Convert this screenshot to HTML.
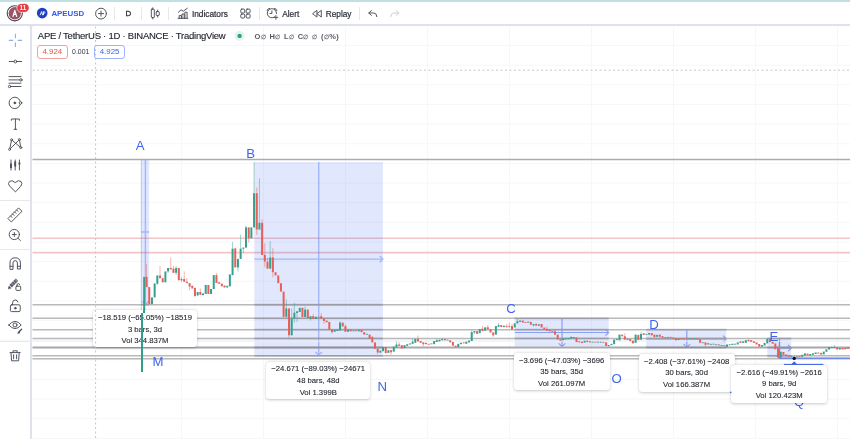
<!DOCTYPE html>
<html lang="en"><head><meta charset="utf-8"><title>APEUSD — TradingView</title>
<style>
html,body{margin:0;padding:0;background:#fff}
body{width:850px;height:439px;overflow:hidden;font-family:"Liberation Sans",sans-serif;color:#131722}
#page{position:relative;width:850px;height:439px;overflow:hidden;background:#dfe2ec}
#strip{position:absolute;left:0;top:0;width:850px;height:2px;background:#c0e1e4}
#topbar{position:absolute;left:0;top:1.8px;width:850px;height:21.8px;background:#fff}
#leftbar{position:absolute;left:0;top:26.4px;width:29.9px;height:413px;background:#fff;border-top-right-radius:2px}
#pane{position:absolute;left:32.3px;top:26.4px;width:818px;height:413px;background:#fff;border-top-left-radius:2px}
svg{position:absolute;left:0;top:0;overflow:visible}
.t{position:absolute;white-space:nowrap;line-height:1;}
.tb{font-size:8.3px;-webkit-text-stroke:0.2px #2a2e39;color:#2a2e39}
.sep{position:absolute;top:7px;width:1px;height:12.5px;background:#e6e8ee}
.lsep{position:absolute;left:0;width:30.3px;height:1px;background:#e6e8ee}
.lab{position:absolute;font-size:13.2px;line-height:1;color:#3f65f2;white-space:nowrap}
.tip{position:absolute;background:#fff;border-radius:3.5px;box-shadow:0 0.5px 3px rgba(0,0,0,0.22);font-size:7.7px;color:#23272f;-webkit-text-stroke:0.1px #23272f;text-align:center;white-space:nowrap}
.tip div{position:absolute;left:0;right:0;line-height:1}
.pbox{position:absolute;top:45.1px;height:12.1px;border:1px solid;border-radius:3px;font-size:7.9px;line-height:12.3px;text-align:center;box-sizing:content-box}
.e{font-size:6.2px;font-weight:bold;color:#6a6e78}

</style></head>
<body>
<div id="page">
<div id="strip"></div>
<div id="topbar"></div>
<div id="leftbar"></div>
<div id="pane"></div>
<svg id="chart" width="850" height="439" viewBox="0 0 850 439">
<g stroke="#f7f7fa" stroke-width="1">
<line x1="32.5" y1="45.6" x2="850" y2="45.6"/>
<line x1="32.5" y1="65.2" x2="850" y2="65.2"/>
<line x1="32.5" y1="84.8" x2="850" y2="84.8"/>
<line x1="32.5" y1="104.5" x2="850" y2="104.5"/>
<line x1="32.5" y1="124.1" x2="850" y2="124.1"/>
<line x1="32.5" y1="143.8" x2="850" y2="143.8"/>
<line x1="32.5" y1="163.4" x2="850" y2="163.4"/>
<line x1="32.5" y1="183.0" x2="850" y2="183.0"/>
<line x1="32.5" y1="202.7" x2="850" y2="202.7"/>
<line x1="32.5" y1="222.3" x2="850" y2="222.3"/>
<line x1="32.5" y1="242.0" x2="850" y2="242.0"/>
<line x1="32.5" y1="261.6" x2="850" y2="261.6"/>
<line x1="32.5" y1="281.2" x2="850" y2="281.2"/>
<line x1="32.5" y1="300.9" x2="850" y2="300.9"/>
<line x1="32.5" y1="320.5" x2="850" y2="320.5"/>
<line x1="32.5" y1="340.2" x2="850" y2="340.2"/>
<line x1="32.5" y1="359.8" x2="850" y2="359.8"/>
<line x1="32.5" y1="379.4" x2="850" y2="379.4"/>
<line x1="32.5" y1="399.1" x2="850" y2="399.1"/>
<line x1="32.5" y1="418.7" x2="850" y2="418.7"/>
<line x1="32.5" y1="438.4" x2="850" y2="438.4"/>
<line x1="181.5" y1="26.5" x2="181.5" y2="439"/>
<line x1="263.5" y1="26.5" x2="263.5" y2="439"/>
<line x1="345.5" y1="26.5" x2="345.5" y2="439"/>
<line x1="427.5" y1="26.5" x2="427.5" y2="439"/>
<line x1="509.5" y1="26.5" x2="509.5" y2="439"/>
<line x1="591.5" y1="26.5" x2="591.5" y2="439"/>
<line x1="673.5" y1="26.5" x2="673.5" y2="439"/>
<line x1="755.5" y1="26.5" x2="755.5" y2="439"/>
<line x1="837.5" y1="26.5" x2="837.5" y2="439"/>
<line x1="919.5" y1="26.5" x2="919.5" y2="439"/>
</g>
<g stroke="#f4c4c7" stroke-width="1.6">
<line x1="32.5" y1="238.3" x2="850" y2="238.3"/>
<line x1="32.5" y1="252.6" x2="850" y2="252.6"/>
</g>
<rect x="141.3" y="159.8" width="7.8" height="144.7" fill="#3a64ee" fill-opacity="0.152"/>
<rect x="254.3" y="162.1" width="128.6" height="193.2" fill="#3a64ee" fill-opacity="0.152"/>
<rect x="514.7" y="318.2" width="94.0" height="28.4" fill="#3a64ee" fill-opacity="0.152"/>
<rect x="646.2" y="330.1" width="80.1" height="17.3" fill="#3a64ee" fill-opacity="0.152"/>
<rect x="767.3" y="338.6" width="23.9" height="19.8" fill="#3a64ee" fill-opacity="0.152"/>
<path d="M145.4 159.8V304.5M142.20000000000002 301.3L145.4 304.5L148.6 301.3M141.3 232H149.1" stroke="#4f74f5" stroke-width="1.4" fill="none" stroke-opacity="0.42"/>
<path d="M318.7 162.1V355.3M315.5 352.1L318.7 355.3L321.9 352.1M254.3 259.1H382.9M379.7 255.90000000000003L382.9 259.1L379.7 262.3" stroke="#4f74f5" stroke-width="1.4" fill="none" stroke-opacity="0.42"/>
<path d="M562 318.2V346.6M558.8 343.40000000000003L562 346.6L565.2 343.40000000000003M514.7 332.5H608.7M605.5 329.3L608.7 332.5L605.5 335.7" stroke="#4f74f5" stroke-width="1.2" fill="none" stroke-opacity="0.62"/>
<path d="M686.8 330.1V347.4M683.5999999999999 344.2L686.8 347.4L690.0 344.2M646.2 338.8H726.3M723.0999999999999 335.6L726.3 338.8L723.0999999999999 342.0" stroke="#4f74f5" stroke-width="1.2" fill="none" stroke-opacity="0.62"/>
<path d="M779.5 348.2H791.2M788.0 345.0L791.2 348.2L788.0 351.4" stroke="#4f74f5" stroke-width="1.2" fill="none" stroke-opacity="0.62"/>
<path d="M779.5 338.6V358.4M776.3 355.2L779.5 358.4L782.7 355.2" stroke="#4f74f5" stroke-opacity="0.8" stroke-width="1.3" fill="none"/>
<g stroke="#b9b9bc" stroke-width="1.5">
<line x1="32.5" y1="304.74" x2="850" y2="304.74"/>
<line x1="32.5" y1="318.3" x2="850" y2="318.3"/>
<line x1="32.5" y1="329.7" x2="850" y2="329.7"/>
<line x1="32.5" y1="338.4" x2="850" y2="338.4"/>
<line x1="32.5" y1="355.8" x2="850" y2="355.8"/>
<line x1="32.5" y1="358.8" x2="850" y2="358.8"/>
<line x1="32.5" y1="159.5" x2="850" y2="159.5" stroke="#adadb0" stroke-width="1.6"/>
<line x1="32.5" y1="347.5" x2="850" y2="347.5" stroke="#a8a8ab" stroke-width="2.1"/>
</g>
<g stroke="#50546e" stroke-opacity="0.28" stroke-width="1.8">
<line x1="141.3" y1="304.74" x2="149.1" y2="304.74"/>
<line x1="254.3" y1="304.74" x2="382.9" y2="304.74"/>
<line x1="254.3" y1="318.3" x2="382.9" y2="318.3"/>
<line x1="254.3" y1="329.7" x2="382.9" y2="329.7"/>
<line x1="254.3" y1="338.4" x2="382.9" y2="338.4"/>
<line x1="254.3" y1="347.5" x2="382.9" y2="347.5"/>
<line x1="254.3" y1="355.8" x2="382.9" y2="355.8"/>
<line x1="514.7" y1="318.3" x2="608.7" y2="318.3"/>
<line x1="514.7" y1="329.7" x2="608.7" y2="329.7"/>
<line x1="514.7" y1="338.4" x2="608.7" y2="338.4"/>
<line x1="646.2" y1="329.7" x2="726.3" y2="329.7"/>
<line x1="646.2" y1="338.4" x2="726.3" y2="338.4"/>
<line x1="646.2" y1="347.5" x2="726.3" y2="347.5"/>
<line x1="767.3" y1="338.4" x2="791.2" y2="338.4"/>
<line x1="767.3" y1="347.5" x2="791.2" y2="347.5"/>
<line x1="767.3" y1="355.8" x2="791.2" y2="355.8"/>
</g>
<line x1="778.8" y1="358.2" x2="850" y2="358.2" stroke="#5b7df5" stroke-width="1.3"/>
<line x1="0" y1="341.1" x2="850" y2="341.1" stroke="#e3f1f1" stroke-width="1"/>
<g id="candles">
<line x1="141.3" y1="160" x2="141.3" y2="313" stroke="#35a08d" stroke-width="0.8" stroke-opacity="0.45"/>
<rect x="143.2" y="276.9" width="2" height="36" fill="#35a08d"/>
<line x1="146.59" y1="263.9" x2="146.59" y2="287.1" stroke="#e6605a" stroke-width="0.8" stroke-opacity="0.6"/>
<rect x="145.59" y="276.9" width="2" height="10.2" fill="#e6605a"/>
<rect x="148.27" y="287.1" width="2" height="17.1" fill="#e6605a"/>
<rect x="150.96" y="297.4" width="2" height="6.8" fill="#35a08d"/>
<rect x="153.65" y="283.4" width="2" height="14.0" fill="#35a08d"/>
<line x1="157.34" y1="275.5" x2="157.34" y2="285.0" stroke="#35a08d" stroke-width="0.8" stroke-opacity="0.6"/>
<rect x="156.34" y="275.5" width="2" height="8.2" fill="#35a08d"/>
<line x1="160.02" y1="265.9" x2="160.02" y2="278.2" stroke="#e6605a" stroke-width="0.8" stroke-opacity="0.6"/>
<rect x="159.02" y="275.5" width="2" height="2.7" fill="#e6605a"/>
<rect x="161.71" y="278.2" width="2" height="4.1" fill="#e6605a"/>
<rect x="164.40" y="271.4" width="2" height="10.9" fill="#35a08d"/>
<line x1="168.08" y1="268.0" x2="168.08" y2="273.0" stroke="#35a08d" stroke-width="0.8" stroke-opacity="0.6"/>
<rect x="167.08" y="268.0" width="2" height="3.4" fill="#35a08d"/>
<line x1="170.77" y1="257.5" x2="170.77" y2="269.4" stroke="#e6605a" stroke-width="0.8" stroke-opacity="0.6"/>
<rect x="169.77" y="268.0" width="2" height="1.4" fill="#e6605a"/>
<line x1="173.46" y1="266.0" x2="173.46" y2="272.8" stroke="#e6605a" stroke-width="0.8" stroke-opacity="0.6"/>
<rect x="172.46" y="268.7" width="2" height="4.1" fill="#e6605a"/>
<line x1="176.14" y1="266.0" x2="176.14" y2="275.0" stroke="#35a08d" stroke-width="0.8" stroke-opacity="0.6"/>
<rect x="175.14" y="268.0" width="2" height="4.8" fill="#35a08d"/>
<rect x="177.83" y="268.0" width="2" height="12.3" fill="#e6605a"/>
<line x1="181.52" y1="277.0" x2="181.52" y2="282.0" stroke="#35a08d" stroke-width="0.8" stroke-opacity="0.6"/>
<rect x="180.52" y="279.0" width="2" height="1.3" fill="#35a08d"/>
<line x1="184.21" y1="271.4" x2="184.21" y2="281.7" stroke="#e6605a" stroke-width="0.8" stroke-opacity="0.6"/>
<rect x="183.21" y="279.0" width="2" height="2.7" fill="#e6605a"/>
<line x1="186.89" y1="278.0" x2="186.89" y2="283.1" stroke="#e6605a" stroke-width="0.8" stroke-opacity="0.6"/>
<rect x="185.89" y="281.7" width="2" height="1.4" fill="#e6605a"/>
<line x1="189.58" y1="283.1" x2="189.58" y2="290.5" stroke="#e6605a" stroke-width="0.8" stroke-opacity="0.6"/>
<rect x="188.58" y="283.1" width="2" height="3.5" fill="#e6605a"/>
<rect x="191.27" y="285.7" width="2" height="2.8" fill="#e6605a"/>
<rect x="193.95" y="287.8" width="2" height="8.4" fill="#e6605a"/>
<rect x="196.64" y="292.0" width="2" height="3.5" fill="#35a08d"/>
<line x1="200.33" y1="288.5" x2="200.33" y2="294.8" stroke="#e6605a" stroke-width="0.8" stroke-opacity="0.6"/>
<rect x="199.33" y="292.0" width="2" height="2.8" fill="#e6605a"/>
<rect x="202.01" y="293.4" width="2" height="1.8" fill="#35a08d"/>
<rect x="204.70" y="285.0" width="2" height="9.0" fill="#35a08d"/>
<rect x="207.39" y="285.0" width="2" height="9.0" fill="#e6605a"/>
<rect x="210.07" y="289.0" width="2" height="5.0" fill="#35a08d"/>
<rect x="212.76" y="275.1" width="2" height="13.9" fill="#35a08d"/>
<line x1="216.45" y1="273.0" x2="216.45" y2="282.9" stroke="#e6605a" stroke-width="0.8" stroke-opacity="0.6"/>
<rect x="215.45" y="275.1" width="2" height="7.8" fill="#e6605a"/>
<rect x="218.14" y="282.2" width="2" height="1.6" fill="#e6605a"/>
<rect x="220.82" y="283.6" width="2" height="2.8" fill="#e6605a"/>
<rect x="223.51" y="285.5" width="2" height="2.0" fill="#e6605a"/>
<rect x="226.20" y="285.8" width="2" height="1.7" fill="#35a08d"/>
<rect x="228.88" y="274.4" width="2" height="12.0" fill="#35a08d"/>
<line x1="232.57" y1="241.9" x2="232.57" y2="275.1" stroke="#35a08d" stroke-width="0.8" stroke-opacity="0.6"/>
<rect x="231.57" y="248.7" width="2" height="26.4" fill="#35a08d"/>
<rect x="234.26" y="248.3" width="2" height="19.1" fill="#e6605a"/>
<line x1="237.94" y1="258.9" x2="237.94" y2="271.6" stroke="#35a08d" stroke-width="0.8" stroke-opacity="0.6"/>
<rect x="236.94" y="258.9" width="2" height="8.5" fill="#35a08d"/>
<line x1="240.63" y1="234.6" x2="240.63" y2="258.9" stroke="#35a08d" stroke-width="0.8" stroke-opacity="0.6"/>
<rect x="239.63" y="248.7" width="2" height="10.2" fill="#35a08d"/>
<line x1="243.32" y1="247.6" x2="243.32" y2="253.2" stroke="#35a08d" stroke-width="0.8" stroke-opacity="0.6"/>
<rect x="242.32" y="247.6" width="2" height="1.1" fill="#35a08d"/>
<line x1="246.01" y1="225.5" x2="246.01" y2="247.6" stroke="#35a08d" stroke-width="0.8" stroke-opacity="0.6"/>
<rect x="245.01" y="227.4" width="2" height="20.2" fill="#35a08d"/>
<line x1="248.69" y1="227.4" x2="248.69" y2="242.6" stroke="#e6605a" stroke-width="0.8" stroke-opacity="0.6"/>
<rect x="247.69" y="227.4" width="2" height="11.0" fill="#e6605a"/>
<rect x="250.38" y="227.4" width="2" height="11.0" fill="#35a08d"/>
<line x1="254.07" y1="162.2" x2="254.07" y2="227.4" stroke="#35a08d" stroke-width="0.8" stroke-opacity="0.6"/>
<rect x="253.07" y="193.2" width="2" height="34.2" fill="#35a08d"/>
<line x1="256.75" y1="187.5" x2="256.75" y2="234.8" stroke="#e6605a" stroke-width="0.8" stroke-opacity="0.6"/>
<rect x="255.75" y="193.2" width="2" height="36.3" fill="#e6605a"/>
<line x1="259.44" y1="178.4" x2="259.44" y2="229.5" stroke="#35a08d" stroke-width="0.8" stroke-opacity="0.6"/>
<rect x="258.44" y="222.8" width="2" height="6.7" fill="#35a08d"/>
<line x1="262.13" y1="219.3" x2="262.13" y2="255.0" stroke="#e6605a" stroke-width="0.8" stroke-opacity="0.6"/>
<rect x="261.13" y="222.8" width="2" height="32.2" fill="#e6605a"/>
<line x1="264.81" y1="243.2" x2="264.81" y2="267.2" stroke="#e6605a" stroke-width="0.8" stroke-opacity="0.6"/>
<rect x="263.81" y="255.0" width="2" height="6.6" fill="#e6605a"/>
<line x1="267.50" y1="258.0" x2="267.50" y2="268.6" stroke="#e6605a" stroke-width="0.8" stroke-opacity="0.6"/>
<rect x="266.50" y="261.6" width="2" height="7.0" fill="#e6605a"/>
<line x1="270.19" y1="241.1" x2="270.19" y2="268.6" stroke="#35a08d" stroke-width="0.8" stroke-opacity="0.6"/>
<rect x="269.19" y="257.4" width="2" height="11.2" fill="#35a08d"/>
<line x1="272.88" y1="248.2" x2="272.88" y2="277.5" stroke="#e6605a" stroke-width="0.8" stroke-opacity="0.6"/>
<rect x="271.88" y="257.4" width="2" height="14.8" fill="#e6605a"/>
<rect x="274.56" y="272.2" width="2" height="3.2" fill="#e6605a"/>
<rect x="277.25" y="275.4" width="2" height="7.8" fill="#e6605a"/>
<rect x="279.94" y="283.2" width="2" height="8.4" fill="#e6605a"/>
<rect x="282.62" y="291.6" width="2" height="25.3" fill="#e6605a"/>
<line x1="286.31" y1="299.4" x2="286.31" y2="316.9" stroke="#35a08d" stroke-width="0.8" stroke-opacity="0.6"/>
<rect x="285.31" y="308.5" width="2" height="8.4" fill="#35a08d"/>
<line x1="289.00" y1="308.5" x2="289.00" y2="338.0" stroke="#e6605a" stroke-width="0.8" stroke-opacity="0.6"/>
<rect x="288.00" y="308.5" width="2" height="26.8" fill="#e6605a"/>
<line x1="291.69" y1="308.5" x2="291.69" y2="335.3" stroke="#35a08d" stroke-width="0.8" stroke-opacity="0.6"/>
<rect x="290.69" y="318.4" width="2" height="16.9" fill="#35a08d"/>
<line x1="294.37" y1="302.8" x2="294.37" y2="322.6" stroke="#35a08d" stroke-width="0.8" stroke-opacity="0.6"/>
<rect x="293.37" y="312.7" width="2" height="5.7" fill="#35a08d"/>
<line x1="297.06" y1="311.3" x2="297.06" y2="321.9" stroke="#35a08d" stroke-width="0.8" stroke-opacity="0.6"/>
<rect x="296.06" y="311.3" width="2" height="1.7" fill="#35a08d"/>
<rect x="298.75" y="307.8" width="2" height="4.2" fill="#35a08d"/>
<rect x="301.43" y="307.8" width="2" height="9.2" fill="#e6605a"/>
<line x1="305.12" y1="306.5" x2="305.12" y2="317.0" stroke="#35a08d" stroke-width="0.8" stroke-opacity="0.6"/>
<rect x="304.12" y="309.6" width="2" height="7.4" fill="#35a08d"/>
<rect x="306.81" y="309.6" width="2" height="8.4" fill="#e6605a"/>
<line x1="310.49" y1="316.2" x2="310.49" y2="320.5" stroke="#35a08d" stroke-width="0.8" stroke-opacity="0.6"/>
<rect x="309.49" y="316.2" width="2" height="2.8" fill="#35a08d"/>
<line x1="313.18" y1="314.1" x2="313.18" y2="319.0" stroke="#e6605a" stroke-width="0.8" stroke-opacity="0.6"/>
<rect x="312.18" y="316.2" width="2" height="2.8" fill="#e6605a"/>
<rect x="314.87" y="316.7" width="2" height="2.3" fill="#35a08d"/>
<rect x="317.56" y="316.7" width="2" height="1.1" fill="#e6605a"/>
<line x1="321.24" y1="313.0" x2="321.24" y2="318.6" stroke="#e6605a" stroke-width="0.8" stroke-opacity="0.6"/>
<rect x="320.24" y="316.2" width="2" height="2.4" fill="#e6605a"/>
<line x1="323.93" y1="318.6" x2="323.93" y2="324.0" stroke="#e6605a" stroke-width="0.8" stroke-opacity="0.6"/>
<rect x="322.93" y="318.6" width="2" height="2.3" fill="#e6605a"/>
<rect x="325.62" y="320.5" width="2" height="1.8" fill="#e6605a"/>
<rect x="328.30" y="321.9" width="2" height="7.7" fill="#e6605a"/>
<line x1="331.99" y1="329.6" x2="331.99" y2="333.6" stroke="#e6605a" stroke-width="0.8" stroke-opacity="0.6"/>
<rect x="330.99" y="329.6" width="2" height="2.6" fill="#e6605a"/>
<rect x="333.68" y="329.9" width="2" height="1.9" fill="#35a08d"/>
<rect x="336.36" y="329.6" width="2" height="1.4" fill="#35a08d"/>
<line x1="340.05" y1="321.2" x2="340.05" y2="330.4" stroke="#35a08d" stroke-width="0.8" stroke-opacity="0.6"/>
<rect x="339.05" y="322.6" width="2" height="7.8" fill="#35a08d"/>
<rect x="341.74" y="322.6" width="2" height="3.9" fill="#e6605a"/>
<line x1="345.42" y1="324.3" x2="345.42" y2="331.8" stroke="#e6605a" stroke-width="0.8" stroke-opacity="0.6"/>
<rect x="344.42" y="326.1" width="2" height="5.7" fill="#e6605a"/>
<rect x="347.11" y="329.6" width="2" height="2.2" fill="#35a08d"/>
<rect x="349.80" y="329.6" width="2" height="1.7" fill="#e6605a"/>
<rect x="352.49" y="330.4" width="2" height="0.9" fill="#35a08d"/>
<rect x="355.17" y="330.4" width="2" height="0.9" fill="#e6605a"/>
<rect x="357.86" y="329.9" width="2" height="1.4" fill="#35a08d"/>
<rect x="360.55" y="329.9" width="2" height="2.3" fill="#e6605a"/>
<rect x="363.23" y="332.2" width="2" height="2.4" fill="#e6605a"/>
<rect x="365.92" y="333.8" width="2" height="0.9" fill="#35a08d"/>
<rect x="368.61" y="334.6" width="2" height="4.2" fill="#e6605a"/>
<rect x="371.29" y="336.7" width="2" height="5.7" fill="#e6605a"/>
<rect x="373.98" y="342.4" width="2" height="6.3" fill="#e6605a"/>
<line x1="377.67" y1="348.7" x2="377.67" y2="354.4" stroke="#e6605a" stroke-width="0.8" stroke-opacity="0.6"/>
<rect x="376.67" y="348.7" width="2" height="3.7" fill="#e6605a"/>
<rect x="379.36" y="350.6" width="2" height="2.1" fill="#35a08d"/>
<rect x="382.04" y="347.0" width="2" height="4.2" fill="#35a08d"/>
<rect x="384.73" y="347.0" width="2" height="6.2" fill="#e6605a"/>
<rect x="387.42" y="350.1" width="2" height="2.8" fill="#35a08d"/>
<line x1="391.10" y1="350.2" x2="391.10" y2="354.7" stroke="#e6605a" stroke-width="0.8" stroke-opacity="0.6"/>
<rect x="390.10" y="350.2" width="2" height="2.1" fill="#e6605a"/>
<rect x="392.79" y="346.6" width="2" height="5.0" fill="#35a08d"/>
<line x1="396.48" y1="341.4" x2="396.48" y2="347.4" stroke="#35a08d" stroke-width="0.8" stroke-opacity="0.6"/>
<rect x="395.48" y="344.5" width="2" height="2.9" fill="#35a08d"/>
<line x1="399.16" y1="342.0" x2="399.16" y2="345.9" stroke="#e6605a" stroke-width="0.8" stroke-opacity="0.6"/>
<rect x="398.16" y="344.5" width="2" height="1.4" fill="#e6605a"/>
<rect x="400.85" y="345.2" width="2" height="3.3" fill="#e6605a"/>
<rect x="403.54" y="345.2" width="2" height="2.9" fill="#35a08d"/>
<rect x="406.23" y="344.2" width="2" height="1.7" fill="#35a08d"/>
<rect x="408.91" y="343.4" width="2" height="1.1" fill="#35a08d"/>
<line x1="412.60" y1="338.6" x2="412.60" y2="343.8" stroke="#35a08d" stroke-width="0.8" stroke-opacity="0.6"/>
<rect x="411.60" y="341.7" width="2" height="2.1" fill="#35a08d"/>
<rect x="414.29" y="338.9" width="2" height="3.9" fill="#35a08d"/>
<line x1="417.97" y1="335.4" x2="417.97" y2="341.4" stroke="#e6605a" stroke-width="0.8" stroke-opacity="0.6"/>
<rect x="416.97" y="338.9" width="2" height="2.5" fill="#e6605a"/>
<rect x="419.66" y="341.0" width="2" height="1.8" fill="#e6605a"/>
<line x1="423.35" y1="342.4" x2="423.35" y2="346.2" stroke="#e6605a" stroke-width="0.8" stroke-opacity="0.6"/>
<rect x="422.35" y="342.4" width="2" height="1.8" fill="#e6605a"/>
<rect x="425.03" y="342.8" width="2" height="1.4" fill="#e6605a"/>
<rect x="427.72" y="343.8" width="2" height="0.9" fill="#e6605a"/>
<rect x="430.41" y="343.4" width="2" height="0.9" fill="#35a08d"/>
<rect x="433.10" y="341.0" width="2" height="3.2" fill="#35a08d"/>
<line x1="436.78" y1="339.0" x2="436.78" y2="342.0" stroke="#35a08d" stroke-width="0.8" stroke-opacity="0.6"/>
<rect x="435.78" y="340.3" width="2" height="1.7" fill="#35a08d"/>
<rect x="438.47" y="339.6" width="2" height="1.8" fill="#35a08d"/>
<rect x="441.16" y="338.9" width="2" height="1.4" fill="#35a08d"/>
<rect x="443.84" y="338.9" width="2" height="1.4" fill="#e6605a"/>
<rect x="446.53" y="339.6" width="2" height="0.9" fill="#35a08d"/>
<rect x="449.22" y="340.3" width="2" height="2.1" fill="#e6605a"/>
<rect x="451.90" y="342.0" width="2" height="3.7" fill="#e6605a"/>
<rect x="454.59" y="345.7" width="2" height="1.4" fill="#e6605a"/>
<rect x="457.28" y="343.8" width="2" height="3.3" fill="#35a08d"/>
<rect x="459.97" y="342.8" width="2" height="1.4" fill="#35a08d"/>
<rect x="462.65" y="342.4" width="2" height="1.0" fill="#e6605a"/>
<rect x="465.34" y="341.7" width="2" height="2.1" fill="#35a08d"/>
<rect x="468.03" y="340.6" width="2" height="1.8" fill="#35a08d"/>
<line x1="471.71" y1="330.5" x2="471.71" y2="341.0" stroke="#35a08d" stroke-width="0.8" stroke-opacity="0.6"/>
<rect x="470.71" y="332.1" width="2" height="8.9" fill="#35a08d"/>
<line x1="474.40" y1="331.1" x2="474.40" y2="334.0" stroke="#35a08d" stroke-width="0.8" stroke-opacity="0.6"/>
<rect x="473.40" y="331.1" width="2" height="1.4" fill="#35a08d"/>
<rect x="476.09" y="331.1" width="2" height="2.8" fill="#e6605a"/>
<rect x="478.77" y="329.0" width="2" height="4.2" fill="#35a08d"/>
<line x1="482.46" y1="325.9" x2="482.46" y2="331.1" stroke="#e6605a" stroke-width="0.8" stroke-opacity="0.6"/>
<rect x="481.46" y="328.7" width="2" height="2.4" fill="#e6605a"/>
<rect x="484.15" y="327.3" width="2" height="3.4" fill="#35a08d"/>
<line x1="487.84" y1="325.0" x2="487.84" y2="329.3" stroke="#e6605a" stroke-width="0.8" stroke-opacity="0.6"/>
<rect x="486.84" y="327.3" width="2" height="2.0" fill="#e6605a"/>
<rect x="489.52" y="329.0" width="2" height="3.5" fill="#e6605a"/>
<line x1="493.21" y1="332.5" x2="493.21" y2="337.0" stroke="#e6605a" stroke-width="0.8" stroke-opacity="0.6"/>
<rect x="492.21" y="332.5" width="2" height="2.9" fill="#e6605a"/>
<rect x="494.90" y="326.1" width="2" height="8.5" fill="#35a08d"/>
<line x1="498.58" y1="323.0" x2="498.58" y2="326.8" stroke="#35a08d" stroke-width="0.8" stroke-opacity="0.6"/>
<rect x="497.58" y="325.1" width="2" height="1.7" fill="#35a08d"/>
<rect x="500.27" y="325.1" width="2" height="2.0" fill="#e6605a"/>
<rect x="502.96" y="325.7" width="2" height="1.4" fill="#35a08d"/>
<line x1="506.64" y1="324.0" x2="506.64" y2="328.0" stroke="#e6605a" stroke-width="0.8" stroke-opacity="0.6"/>
<rect x="505.64" y="325.9" width="2" height="0.9" fill="#e6605a"/>
<line x1="509.33" y1="322.6" x2="509.33" y2="328.2" stroke="#e6605a" stroke-width="0.8" stroke-opacity="0.6"/>
<rect x="508.33" y="326.2" width="2" height="0.9" fill="#e6605a"/>
<line x1="512.02" y1="324.0" x2="512.02" y2="329.6" stroke="#e6605a" stroke-width="0.8" stroke-opacity="0.6"/>
<rect x="511.02" y="326.1" width="2" height="3.5" fill="#e6605a"/>
<rect x="513.71" y="323.3" width="2" height="4.2" fill="#35a08d"/>
<line x1="517.39" y1="319.0" x2="517.39" y2="323.3" stroke="#35a08d" stroke-width="0.8" stroke-opacity="0.6"/>
<rect x="516.39" y="321.2" width="2" height="2.1" fill="#35a08d"/>
<rect x="519.08" y="320.5" width="2" height="1.4" fill="#35a08d"/>
<rect x="521.77" y="320.5" width="2" height="2.1" fill="#e6605a"/>
<rect x="524.45" y="321.9" width="2" height="1.0" fill="#e6605a"/>
<rect x="527.14" y="321.5" width="2" height="1.1" fill="#35a08d"/>
<rect x="529.83" y="321.9" width="2" height="2.8" fill="#e6605a"/>
<line x1="533.51" y1="324.0" x2="533.51" y2="326.5" stroke="#35a08d" stroke-width="0.8" stroke-opacity="0.6"/>
<rect x="532.51" y="324.0" width="2" height="1.4" fill="#35a08d"/>
<rect x="535.20" y="323.7" width="2" height="2.0" fill="#e6605a"/>
<rect x="537.89" y="324.3" width="2" height="1.4" fill="#35a08d"/>
<rect x="540.58" y="324.0" width="2" height="3.5" fill="#e6605a"/>
<rect x="543.26" y="327.5" width="2" height="1.9" fill="#e6605a"/>
<line x1="546.95" y1="326.5" x2="546.95" y2="330.8" stroke="#e6605a" stroke-width="0.8" stroke-opacity="0.6"/>
<rect x="545.95" y="328.9" width="2" height="1.9" fill="#e6605a"/>
<rect x="548.64" y="329.9" width="2" height="1.4" fill="#e6605a"/>
<rect x="551.32" y="330.8" width="2" height="1.0" fill="#e6605a"/>
<line x1="555.01" y1="329.5" x2="555.01" y2="334.6" stroke="#e6605a" stroke-width="0.8" stroke-opacity="0.6"/>
<rect x="554.01" y="331.3" width="2" height="3.3" fill="#e6605a"/>
<rect x="556.70" y="334.6" width="2" height="4.9" fill="#e6605a"/>
<rect x="559.38" y="339.2" width="2" height="1.5" fill="#e6605a"/>
<rect x="562.07" y="338.4" width="2" height="1.8" fill="#35a08d"/>
<rect x="564.76" y="338.4" width="2" height="1.1" fill="#35a08d"/>
<rect x="567.45" y="338.1" width="2" height="1.1" fill="#35a08d"/>
<line x1="571.13" y1="336.0" x2="571.13" y2="338.4" stroke="#35a08d" stroke-width="0.8" stroke-opacity="0.6"/>
<rect x="570.13" y="337.0" width="2" height="1.4" fill="#35a08d"/>
<rect x="572.82" y="337.0" width="2" height="1.1" fill="#35a08d"/>
<rect x="575.51" y="337.4" width="2" height="4.7" fill="#e6605a"/>
<rect x="578.19" y="341.2" width="2" height="1.2" fill="#e6605a"/>
<rect x="580.88" y="341.6" width="2" height="1.5" fill="#e6605a"/>
<rect x="583.57" y="340.7" width="2" height="1.9" fill="#35a08d"/>
<rect x="586.25" y="340.7" width="2" height="1.4" fill="#e6605a"/>
<rect x="588.94" y="341.2" width="2" height="1.2" fill="#e6605a"/>
<rect x="591.63" y="341.7" width="2" height="0.9" fill="#35a08d"/>
<rect x="594.32" y="341.7" width="2" height="0.9" fill="#e6605a"/>
<rect x="597.00" y="341.7" width="2" height="0.9" fill="#35a08d"/>
<rect x="599.69" y="341.7" width="2" height="0.9" fill="#35a08d"/>
<rect x="602.38" y="341.9" width="2" height="0.9" fill="#e6605a"/>
<rect x="605.06" y="342.4" width="2" height="3.5" fill="#e6605a"/>
<rect x="607.75" y="345.0" width="2" height="1.2" fill="#35a08d"/>
<rect x="610.44" y="343.8" width="2" height="1.4" fill="#35a08d"/>
<rect x="613.12" y="339.6" width="2" height="4.6" fill="#35a08d"/>
<rect x="615.81" y="338.9" width="2" height="1.1" fill="#35a08d"/>
<rect x="618.50" y="334.6" width="2" height="5.7" fill="#35a08d"/>
<rect x="621.19" y="334.6" width="2" height="1.7" fill="#e6605a"/>
<line x1="624.87" y1="333.2" x2="624.87" y2="339.6" stroke="#e6605a" stroke-width="0.8" stroke-opacity="0.6"/>
<rect x="623.87" y="336.3" width="2" height="3.3" fill="#e6605a"/>
<rect x="626.56" y="338.6" width="2" height="1.4" fill="#e6605a"/>
<rect x="629.25" y="338.9" width="2" height="2.1" fill="#e6605a"/>
<rect x="631.93" y="340.6" width="2" height="2.8" fill="#e6605a"/>
<rect x="634.62" y="334.6" width="2" height="8.2" fill="#35a08d"/>
<rect x="637.31" y="334.9" width="2" height="5.1" fill="#e6605a"/>
<line x1="641.00" y1="332.0" x2="641.00" y2="339.6" stroke="#35a08d" stroke-width="0.8" stroke-opacity="0.6"/>
<rect x="640.00" y="334.0" width="2" height="5.6" fill="#35a08d"/>
<rect x="642.68" y="333.2" width="2" height="1.7" fill="#e6605a"/>
<rect x="645.37" y="333.9" width="2" height="0.9" fill="#35a08d"/>
<rect x="648.06" y="333.0" width="2" height="1.6" fill="#35a08d"/>
<rect x="650.74" y="333.0" width="2" height="2.4" fill="#e6605a"/>
<rect x="653.43" y="334.6" width="2" height="2.6" fill="#e6605a"/>
<rect x="656.12" y="334.9" width="2" height="1.9" fill="#35a08d"/>
<rect x="658.80" y="334.6" width="2" height="2.2" fill="#e6605a"/>
<rect x="661.49" y="336.1" width="2" height="1.7" fill="#e6605a"/>
<rect x="664.18" y="337.2" width="2" height="1.0" fill="#e6605a"/>
<rect x="666.86" y="336.9" width="2" height="0.9" fill="#35a08d"/>
<rect x="669.55" y="336.8" width="2" height="1.0" fill="#e6605a"/>
<rect x="672.24" y="337.5" width="2" height="1.1" fill="#e6605a"/>
<rect x="674.93" y="338.2" width="2" height="2.1" fill="#e6605a"/>
<rect x="677.61" y="338.6" width="2" height="1.4" fill="#35a08d"/>
<rect x="680.30" y="338.2" width="2" height="1.0" fill="#e6605a"/>
<rect x="682.99" y="338.6" width="2" height="0.9" fill="#e6605a"/>
<rect x="685.67" y="338.3" width="2" height="0.9" fill="#e6605a"/>
<rect x="688.36" y="338.4" width="2" height="0.9" fill="#35a08d"/>
<rect x="691.05" y="338.6" width="2" height="0.9" fill="#e6605a"/>
<rect x="693.73" y="338.4" width="2" height="0.9" fill="#35a08d"/>
<rect x="696.42" y="338.3" width="2" height="1.3" fill="#e6605a"/>
<rect x="699.11" y="339.2" width="2" height="3.6" fill="#e6605a"/>
<rect x="701.80" y="342.3" width="2" height="0.9" fill="#35a08d"/>
<line x1="705.48" y1="342.4" x2="705.48" y2="346.6" stroke="#e6605a" stroke-width="0.8" stroke-opacity="0.6"/>
<rect x="704.48" y="342.4" width="2" height="2.4" fill="#e6605a"/>
<rect x="707.17" y="343.1" width="2" height="1.4" fill="#e6605a"/>
<rect x="709.86" y="343.9" width="2" height="0.9" fill="#35a08d"/>
<rect x="712.54" y="343.7" width="2" height="0.9" fill="#35a08d"/>
<rect x="715.23" y="344.3" width="2" height="0.9" fill="#35a08d"/>
<rect x="717.92" y="344.4" width="2" height="1.0" fill="#e6605a"/>
<rect x="720.60" y="345.0" width="2" height="1.0" fill="#e6605a"/>
<rect x="723.29" y="345.3" width="2" height="0.9" fill="#e6605a"/>
<rect x="725.98" y="344.5" width="2" height="2.4" fill="#35a08d"/>
<rect x="728.67" y="344.3" width="2" height="1.0" fill="#35a08d"/>
<rect x="731.35" y="343.7" width="2" height="1.3" fill="#35a08d"/>
<rect x="734.04" y="343.7" width="2" height="0.9" fill="#35a08d"/>
<rect x="736.73" y="342.4" width="2" height="2.1" fill="#35a08d"/>
<rect x="739.41" y="341.3" width="2" height="1.6" fill="#e6605a"/>
<rect x="742.10" y="341.3" width="2" height="1.6" fill="#35a08d"/>
<rect x="744.79" y="340.2" width="2" height="2.7" fill="#35a08d"/>
<rect x="747.47" y="339.7" width="2" height="1.6" fill="#e6605a"/>
<rect x="750.16" y="340.2" width="2" height="1.6" fill="#e6605a"/>
<rect x="752.85" y="341.3" width="2" height="1.6" fill="#e6605a"/>
<rect x="755.54" y="342.4" width="2" height="2.1" fill="#e6605a"/>
<rect x="758.22" y="344.0" width="2" height="2.6" fill="#e6605a"/>
<rect x="760.91" y="345.0" width="2" height="1.6" fill="#35a08d"/>
<rect x="763.60" y="342.9" width="2" height="2.7" fill="#35a08d"/>
<rect x="766.28" y="338.9" width="2" height="4.5" fill="#35a08d"/>
<rect x="768.97" y="339.2" width="2" height="2.9" fill="#e6605a"/>
<rect x="771.66" y="341.8" width="2" height="1.9" fill="#e6605a"/>
<rect x="774.34" y="343.4" width="2" height="5.9" fill="#e6605a"/>
<line x1="778.03" y1="345.5" x2="778.03" y2="357.2" stroke="#e6605a" stroke-width="0.8" stroke-opacity="0.6"/>
<rect x="777.03" y="348.5" width="2" height="8.7" fill="#e6605a"/>
<rect x="779.72" y="351.7" width="2" height="5.1" fill="#35a08d"/>
<rect x="782.41" y="352.0" width="2" height="2.8" fill="#e6605a"/>
<rect x="785.09" y="354.5" width="2" height="1.6" fill="#e6605a"/>
<rect x="787.78" y="355.6" width="2" height="1.2" fill="#e6605a"/>
<rect x="790.47" y="356.1" width="2" height="1.0" fill="#35a08d"/>
<rect x="793.15" y="356.5" width="2" height="1.0" fill="#e6605a"/>
<rect x="795.84" y="356.4" width="2" height="1.0" fill="#35a08d"/>
<rect x="798.53" y="356.1" width="2" height="1.0" fill="#e6605a"/>
<rect x="801.21" y="354.8" width="2" height="2.0" fill="#35a08d"/>
<rect x="803.90" y="353.3" width="2" height="2.3" fill="#35a08d"/>
<rect x="806.59" y="353.6" width="2" height="1.6" fill="#e6605a"/>
<rect x="809.28" y="354.0" width="2" height="1.6" fill="#35a08d"/>
<rect x="811.96" y="353.3" width="2" height="1.5" fill="#35a08d"/>
<rect x="814.65" y="352.5" width="2" height="1.5" fill="#35a08d"/>
<rect x="817.34" y="352.5" width="2" height="1.1" fill="#e6605a"/>
<rect x="820.02" y="352.9" width="2" height="1.6" fill="#e6605a"/>
<rect x="822.71" y="351.6" width="2" height="2.8" fill="#35a08d"/>
<rect x="825.40" y="349.3" width="2" height="2.5" fill="#35a08d"/>
<rect x="828.08" y="347.0" width="2" height="2.5" fill="#35a08d"/>
<rect x="830.77" y="347.0" width="2" height="1.0" fill="#35a08d"/>
<line x1="834.46" y1="345.0" x2="834.46" y2="348.0" stroke="#35a08d" stroke-width="0.8" stroke-opacity="0.6"/>
<rect x="833.46" y="347.0" width="2" height="1.0" fill="#35a08d"/>
<rect x="836.15" y="347.3" width="2" height="2.2" fill="#e6605a"/>
<rect x="838.83" y="348.0" width="2" height="1.5" fill="#35a08d"/>
<rect x="841.52" y="348.0" width="2" height="1.4" fill="#e6605a"/>
<rect x="844.21" y="347.9" width="2" height="1.4" fill="#e6605a"/>
<rect x="846.89" y="347.5" width="2" height="1.5" fill="#e6605a"/>
<rect x="849.58" y="347.0" width="2" height="1.5" fill="#e6605a"/>
</g>
<circle cx="794.2" cy="358.4" r="1.7" fill="#111"/>
<path d="M791.1 364.6L794.2 361.3L797.3 364.6Z" fill="#3b66f5"/>
<line x1="783.9" y1="364.4" x2="823.4" y2="364.4" stroke="#3b66f5" stroke-width="1"/>
</svg>
<div class="t" id="title" style="left:37.8px;top:31.1px;font-size:9.5px;letter-spacing:-0.245px;color:#20242e;-webkit-text-stroke:0.12px #20242e">APE / TetherUS · 1D · BINANCE · TradingView</div>
<div class="t" id="ohlc" style="left:254.4px;top:32.9px;font-size:7.5px;font-weight:bold;color:#565a64;letter-spacing:0.32px;word-spacing:1.1px">O<span class="e">∅</span> H<span class="e">∅</span> L<span class="e">∅</span> C<span class="e">∅</span> <span class="e">∅</span> (<span class="e">∅</span>%)</div>
<div class="pbox" style="left:36.8px;width:29px;border-color:#f3a19e;color:#e8504b">4.924</div>
<div class="t" style="left:72.1px;top:48.9px;font-size:6.9px;color:#30343e">0.001</div>
<div class="pbox" style="left:94.2px;width:28.7px;border-color:#9db3fb;color:#3f65f2">4.925</div>

<div class="lab" style="left:135.8px;top:139.2px">A</div>
<div class="lab" style="left:246.3px;top:147.2px">B</div>
<div class="lab" style="left:506.2px;top:301.6px">C</div>
<div class="lab" style="left:649.2px;top:317.6px">D</div>
<div class="lab" style="left:769.6px;top:329.6px">E</div>
<div class="lab" style="left:152.4px;top:355.2px">M</div>
<div class="lab" style="left:377.4px;top:380.3px">N</div>
<div class="lab" style="left:611.6px;top:372px">O</div>
<div class="lab" style="left:794px;top:395px">Q</div>

<div class="tip" style="left:92.8px;top:310.2px;width:104.4px;height:37.1px"><div style="top:4.2px">−18.519 (−65.05%) −18519</div><div style="top:15.8px">3 bars, 3d</div><div style="top:27.2px">Vol 344.837M</div></div>
<div class="tip" style="left:266.2px;top:361.5px;width:104.1px;height:37px"><div style="top:3.9px">−24.671 (−89.03%) −24671</div><div style="top:15.4px">48 bars, 48d</div><div style="top:27.2px">Vol 1.399B</div></div>
<div class="tip" style="left:513.6px;top:352.8px;width:96px;height:37.4px"><div style="top:3.8px">−3.696 (−47.03%) −3696</div><div style="top:15.1px">35 bars, 35d</div><div style="top:26.8px">Vol 261.097M</div></div>
<div class="tip" style="left:638.5px;top:354px;width:96.1px;height:37.9px"><div style="top:3.9px">−2.408 (−37.61%) −2408</div><div style="top:15.4px">30 bars, 30d</div><div style="top:26.9px">Vol 166.387M</div></div>
<div class="tip" style="left:730.9px;top:364.8px;width:96.5px;height:37.8px"><div style="top:3.9px">−2.616 (−49.91%) −2616</div><div style="top:15.4px">9 bars, 9d</div><div style="top:27px">Vol 120.423M</div></div>
<div style="position:absolute;left:143.2px;top:310px;width:2px;height:2.8px;background:#2f9f8c"></div>
<div id="wick" style="position:absolute;left:140.6px;top:312.5px;width:2px;height:59.7px;background:#2f9f8c"></div>

<div class="t" style="left:51.4px;top:10px;font-size:7.9px;font-weight:bold;color:#2f5af5">APEUSD</div>
<div class="t tb" style="left:125.6px;top:9.7px;font-size:7.9px;-webkit-text-stroke:0.28px #2a2e39">D</div>
<div class="t tb" style="left:191.9px;top:9.6px">Indicators</div>
<div class="t tb" style="left:282.2px;top:9.6px">Alert</div>
<div class="t tb" style="left:325.7px;top:9.6px">Replay</div>
<div class="sep" style="left:114.3px"></div>
<div class="sep" style="left:141.3px"></div>
<div class="sep" style="left:168.3px"></div>
<div class="sep" style="left:258.6px"></div>
<div class="sep" style="left:358.6px"></div>
<div class="lsep" style="top:200px"></div>
<div class="lsep" style="top:249px"></div>
<div class="lsep" style="top:340.8px"></div>
<div class="t" style="left:19.5px;top:4.9px;font-size:6.3px;font-weight:bold;color:#fff;z-index:3;letter-spacing:0.1px">11</div>
<svg id="icons" width="850" height="439" viewBox="0 0 850 439" fill="none" stroke="#4a4e58" stroke-width="0.95" stroke-linecap="round" stroke-linejoin="round">
<g stroke="#c3c5cb" stroke-width="1" stroke-dasharray="2 2.5" stroke-linecap="butt"><line x1="32.5" y1="70.2" x2="850" y2="70.2"/><line x1="95.6" y1="26.5" x2="95.6" y2="439"/></g>
<!-- avatar -->
<circle cx="14.8" cy="13.3" r="7.6" stroke="#44474f" stroke-width="1.1"/>
<circle cx="14.8" cy="13.3" r="6.2" fill="#9c5464" stroke="none"/>
<path d="M13 16.4L14.8 10.4L16.6 16.4M13.7 14.4H15.900" stroke="#fff" stroke-width="1.2"/>
<rect x="16.9" y="3.5" width="12.2" height="8.8" rx="4.4" fill="#e3393f" stroke="#fff" stroke-width="0.6"/>
<!-- symbol logo -->
<circle cx="42.2" cy="13.1" r="5.3" fill="#1c3fc4" stroke="none"/>
<path d="M40.2 14.9L41.6 11.6L42.6 14.9M43.4 14.7V11.7H44.4Q45.4 12.4 44.3 13.3H43.4" stroke="#fff" stroke-width="0.9"/>
<circle cx="239.6" cy="35.9" r="5" fill="#e4f4f0" stroke="none"/><circle cx="239.6" cy="35.9" r="2.2" fill="#2fa087" stroke="none"/>
<!-- plus circle -->
<circle cx="101" cy="13.6" r="5.4"/>
<path d="M98.4 13.6H103.6M101 11V16.2"/>
<!-- candles icon -->
<rect x="151.3" y="9.2" width="3" height="8.3" rx="0.5"/><path d="M152.8 7.8V9.2M152.8 17.5V19"/>
<rect x="156.2" y="11.6" width="3" height="3.9" rx="0.5"/><path d="M157.7 10.1V11.6M157.7 15.5V17.1"/>
<!-- indicators icon -->
<path d="M178.3 12.4L181 9.8L183.3 11.2L187.4 8.2"/>
<path d="M178 18.3H187.8M179.2 18.3V15.6H181.4V18.3M182 18.3V14H184.2V18.3M184.9 18.3V12.2H187.1V18.3"/>
<!-- 4 squares -->
<rect x="240.8" y="9.1" width="3.9" height="3.9" rx="1"/><rect x="246.2" y="9.1" width="3.9" height="3.9" rx="1"/>
<rect x="240.8" y="14.1" width="3.9" height="3.9" rx="1"/><rect x="246.2" y="14.1" width="3.9" height="3.9" rx="1"/>
<!-- alert -->
<path d="M274.6 17A4.6 4.6 0 1 1 276.5 13.6"/>
<path d="M271.9 10.8V13.5H270"/>
<path d="M267 10.6Q267.4 8.4 269.6 8.4M276.9 10.6Q276.5 8.4 274.3 8.4"/>
<path d="M274 17.4H277.8M275.9 15.5V19.3"/>
<!-- replay -->
<path d="M316.6 10.6L312.6 13.7L316.6 16.8ZM321 10.6L317 13.7L321 16.8Z"/>
<!-- undo / redo -->
<path d="M371.4 10.6L368.8 13L371.4 15.4M368.8 13H374Q376.8 13.2 376.8 16.6"/>
<path d="M396.2 10.6L398.8 13L396.2 15.4M398.8 13H393.6Q390.8 13.2 390.8 16.6" stroke="#c9ccd3"/>
<!-- left toolbar -->
<path d="M8.8 40.4H13.2M17.6 40.4H22M15.4 33.8V38.2M15.4 42.6V47" stroke="#93abf9" stroke-width="1.1" stroke-linecap="butt"/>
<path d="M9.2 61.5H14M16.8 61.5H21.6"/><circle cx="15.4" cy="61.5" r="1.4"/>
<path d="M9 76.6H21M9 79.9H19.6M9 83.2H21M11 86.5H21"/><circle cx="20.9" cy="79.9" r="1.2" fill="#fff"/><circle cx="9.6" cy="86.5" r="1.2" fill="#fff"/>
<circle cx="14.8" cy="102.9" r="5.7"/><circle cx="14.8" cy="102.9" r="0.9" fill="#2a2e39"/><circle cx="20.5" cy="102.9" r="1.3" fill="#fff"/>
<path d="M11.4 120.3V119H19.4V120.3M15.4 119V129.3M14 129.3H16.8"/>
<path d="M9.6 149.4L11.6 139.8L20.8 147.6L19.4 139.6L9.6 149.4"/><circle cx="9.6" cy="149.4" r="1" fill="#fff"/><circle cx="11.6" cy="139.8" r="1" fill="#fff"/><circle cx="20.8" cy="147.6" r="1" fill="#fff"/><circle cx="19.4" cy="139.6" r="1" fill="#fff"/>
<path d="M11 160V170M15.2 160V170M19.4 160V170"/><path d="M11 163.5V168M15.2 161.5V166.5M19.4 162.5V164.5" stroke-width="1.9" stroke-linecap="butt"/>
<path d="M15.2 191.6L9.4 185.9Q7.6 183.4 9.4 181.5Q12 179.4 15.2 182.6Q18.4 179.4 21 181.5Q22.8 183.4 21 185.900Z"/>
<path d="M8.2 218.300L18.6 207.9L22 211.300L11.6 221.7ZM10.6 216L12 217.400M12.6 214L14 215.4M14.6 212L16 213.400M16.6 210L18 211.4"/>
<circle cx="14.3" cy="234.5" r="5.1"/><path d="M18 238.2L20.4 240.6M12.3 234.500H16.300M14.3 232.5V236.5"/>
<path d="M10 269V263Q10 257.8 15.2 257.800Q20.4 257.8 20.4 263V269H17.400V263Q17.4 260.6 15.2 260.600Q13 260.6 13 263V269ZM10 266.300H13M17.4 266.300H20.4"/>
<path d="M10.6 286.2L17 279.8" stroke="#5d616b" stroke-width="3.6" stroke-linecap="butt"/><path d="M11.6 283.2L13.600 285.2M13.4 281.4L15.4 283.4M15.2 279.600L17.200 281.600" stroke="#fff" stroke-width="0.5"/><path d="M8.4 288.6L9 286.2L10.800 288Z" fill="#3a3e48" stroke-width="0.6"/>
<rect x="15.9" y="286.2" width="4.8" height="4.2" rx="0.8" fill="#fff"/><path d="M17 286.200V285Q17 283.600 18.300 283.600Q19.400 283.600 19.600 284.600"/>
<rect x="10.4" y="304.8" width="9.8" height="6.8" rx="1.2"/><path d="M12.6 304.800V302.600Q12.6 300 15.3 300Q17.6 300 18 302"/><circle cx="15.3" cy="308.2" r="0.8" fill="#2a2e39"/>
<path d="M8.8 325Q15 317.6 21.2 325Q15 332.4 8.8 325Z"/><circle cx="15" cy="325" r="2"/><path d="M18.6 332.200L21.6 329.200M18 333L19.4 332.6" stroke-width="1.3"/>
<path d="M10 352.600H20.200M13 352.400V350.800H17.200V352.400M11 352.800L11.6 360.800H18.600L19.2 352.800M13.6 354.800V358.800M16.6 354.800V358.8"/>
<circle cx="730.8" cy="392.4" r="0.8" fill="#3b66f5" stroke="none"/>
</svg>


</div>
</body></html>
